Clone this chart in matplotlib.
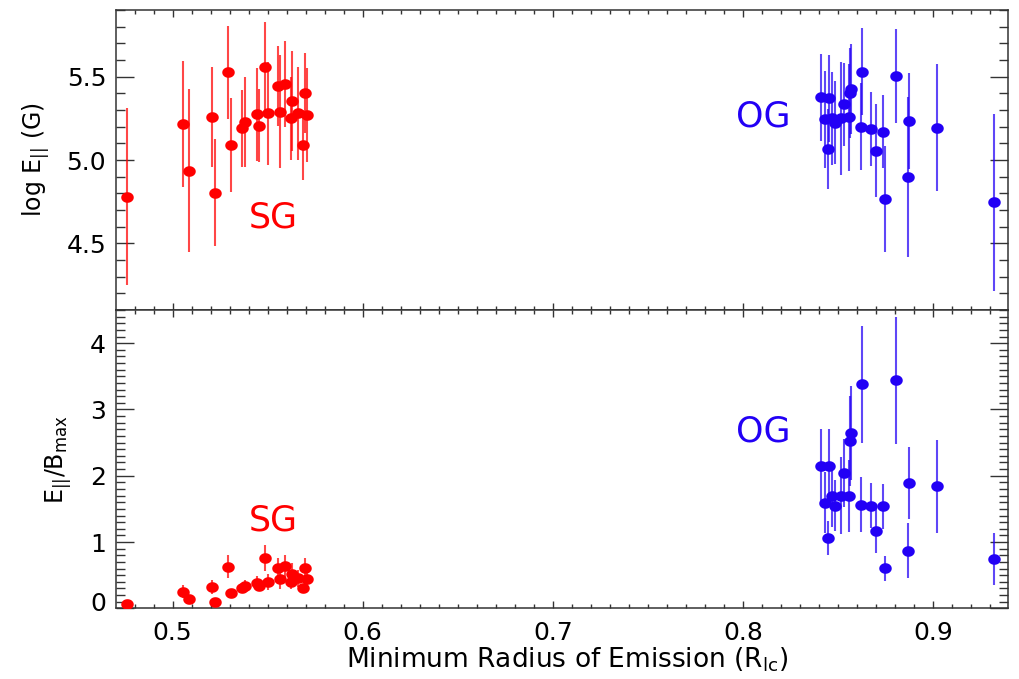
import numpy as np
import matplotlib
matplotlib.use('Agg')
import matplotlib.pyplot as plt
from matplotlib.path import Path
from matplotlib.ticker import MultipleLocator, FormatStrFormatter
import matplotlib.transforms as mtransforms

plt.rcParams['font.family'] = ['DejaVu Sans']
plt.rcParams['mathtext.fontset'] = 'dejavusans'

# ---------------- data ----------------
sg_radius = [0.4761, 0.5053, 0.5088, 0.5205, 0.5223, 0.5293, 0.5305, 0.5367,
             0.5381, 0.5442, 0.5454, 0.5486, 0.5504, 0.5553, 0.5565, 0.5591,
             0.5626, 0.5623, 0.5658, 0.5696, 0.5684, 0.5705]
sg_log_e = [4.78, 5.216, 4.936, 5.256, 4.804, 5.526, 5.09, 5.19, 5.23, 5.274,
            5.206, 5.556, 5.28, 5.444, 5.29, 5.456, 5.356, 5.25, 5.28, 5.40,
            5.09, 5.27]
sg_log_e_err = [0.53, 0.38, 0.49, 0.30, 0.32, 0.28, 0.28, 0.23, 0.27, 0.28,
                0.22, 0.27, 0.31, 0.24, 0.34, 0.26, 0.30, 0.25, 0.28, 0.24,
                0.21, 0.28]
sg_ratio = [0.065, 0.25, 0.136, 0.32, 0.10, 0.63, 0.23, 0.30, 0.34, 0.38,
            0.34, 0.76, 0.40, 0.61, 0.44, 0.64, 0.52, 0.39, 0.45, 0.61,
            0.30, 0.44]
sg_ratio_err = [0.03, 0.10, 0.07, 0.10, 0.03, 0.18, 0.06, 0.07, 0.09, 0.11,
                0.07, 0.20, 0.12, 0.15, 0.15, 0.17, 0.16, 0.10, 0.13, 0.15,
                0.06, 0.12]

og_radius = [0.8410, 0.8451, 0.8430, 0.8447, 0.8468, 0.8486, 0.8516, 0.8530,
             0.8557, 0.8571, 0.8565, 0.8626, 0.8623, 0.8674, 0.8700, 0.8735,
             0.8749, 0.8806, 0.8873, 0.8867, 0.9024, 0.9319]
og_log_e = [5.376, 5.37, 5.244, 5.064, 5.25, 5.224, 5.25, 5.334, 5.256, 5.424,
            5.40, 5.53, 5.20, 5.186, 5.056, 5.17, 4.766, 5.504, 5.234, 4.90,
            5.194, 4.746]
og_log_e_err = [0.26, 0.26, 0.29, 0.24, 0.28, 0.25, 0.34, 0.25, 0.32, 0.27,
                0.27, 0.26, 0.26, 0.22, 0.28, 0.22, 0.32, 0.28, 0.29, 0.48,
                0.38, 0.53]
og_ratio = [2.146, 2.146, 1.59, 1.06, 1.69, 1.55, 1.70, 2.045, 1.69, 2.64,
            2.52, 3.38, 1.565, 1.55, 1.17, 1.54, 0.605, 3.44, 1.89, 0.87,
            1.84, 0.74]
og_ratio_err = [0.56, 0.56, 0.46, 0.25, 0.47, 0.39, 0.58, 0.51, 0.54, 0.71,
                0.68, 0.88, 0.41, 0.34, 0.33, 0.34, 0.19, 0.96, 0.55, 0.42,
                0.70, 0.39]

x_label = 'Minimum Radius of Emission (R$_{\\mathregular{lc}}$)'
y_label_top = 'log E$_{\\mathregular{||}}$ (G)'
y_label_bottom = 'E$_{\\mathregular{||}}$/B$_{\\mathregular{max}}$'

# ---------------- style ----------------
RED = '#ff0000'
BLUE = '#2200f5'
theta = np.linspace(0, 2 * np.pi, 64)
ellipse = Path(np.column_stack([np.cos(theta), 0.85 * np.sin(theta)]), closed=True)

fig = plt.figure(figsize=(10.19, 6.79), dpi=100)
ax1 = fig.add_axes([0.1138, 0.5434, 0.8754, 0.4419])
ax2 = fig.add_axes([0.1138, 0.1041, 0.8754, 0.4393], sharex=ax1)


def draw(ax, x, y, e, color):
    ax.errorbar(x, y, yerr=e, fmt='none', ecolor=color, elinewidth=1.5,
                alpha=0.72, capsize=0, zorder=2)
    ax.plot(x, y, ls='none', marker=ellipse, ms=9, color=color, mec=color,
            mew=0, zorder=3)


draw(ax1, sg_radius, sg_log_e, sg_log_e_err, RED)
draw(ax1, og_radius, og_log_e, og_log_e_err, BLUE)
draw(ax2, sg_radius, sg_ratio, sg_ratio_err, RED)
draw(ax2, og_radius, og_ratio, og_ratio_err, BLUE)

ax1.text(0.5528, 4.658, 'SG', color=RED, fontsize=25, ha='center', va='center')
ax1.text(0.8105, 5.258, 'OG', color=BLUE, fontsize=25, ha='center', va='center')
ax2.text(0.5528, 1.32, 'SG', color=RED, fontsize=25, ha='center', va='center')
ax2.text(0.8105, 2.66, 'OG', color=BLUE, fontsize=25, ha='center', va='center')

ax1.set_xlim(0.4702, 0.9395)
ax1.set_ylim(4.1, 5.9)
ax2.set_ylim(0.0, 4.5)

ax1.xaxis.set_major_locator(MultipleLocator(0.1))
ax1.xaxis.set_minor_locator(MultipleLocator(0.01))
ax1.yaxis.set_major_locator(MultipleLocator(0.5))
ax1.yaxis.set_minor_locator(MultipleLocator(0.1))
ax1.yaxis.set_major_formatter(FormatStrFormatter('%.1f'))
ax2.yaxis.set_major_locator(MultipleLocator(1))
ax2.yaxis.set_minor_locator(MultipleLocator(0.1))
ax2.yaxis.set_major_formatter(FormatStrFormatter('%d'))
ax2.xaxis.set_major_formatter(FormatStrFormatter('%.1f'))

for ax in (ax1, ax2):
    for sp in ax.spines.values():
        sp.set_color('#333333')
        sp.set_linewidth(1.1)
    ax.tick_params(which='both', direction='in', top=True, right=True,
                   color='#333333', width=1.0, labelsize=18)
    ax.tick_params(axis='x', which='major', length=4.8, pad=9)
    ax.tick_params(axis='x', which='minor', length=2.6)
    ax.tick_params(axis='y', which='major', length=13, pad=7)
    ax.tick_params(axis='y', which='minor', length=6.5)

ax1.tick_params(axis='x', labelbottom=False)

ax2.set_xlabel(x_label, fontsize=19)
ax2.xaxis.label.set_va('center')
ax2.xaxis.set_label_coords(0.506, -0.172)

ax1.set_ylabel(y_label_top, fontsize=17)
ax1.yaxis.label.set_va('center')
ax1.yaxis.set_label_coords(-0.090, 0.5)
ax2.set_ylabel(y_label_bottom, fontsize=17)
ax2.yaxis.label.set_va('center')
ax2.yaxis.set_label_coords(-0.065, 0.5)

fig.canvas.draw()
# lift the "0" label a little, as in the reference
for t in ax2.yaxis.get_major_ticks():
    if abs(t.get_loc()) < 1e-9:
        t.label1.set_transform(t.label1.get_transform() +
                               mtransforms.ScaledTranslation(0, 7 / 100, fig.dpi_scale_trans))

fig.savefig('out.png', dpi=100)
